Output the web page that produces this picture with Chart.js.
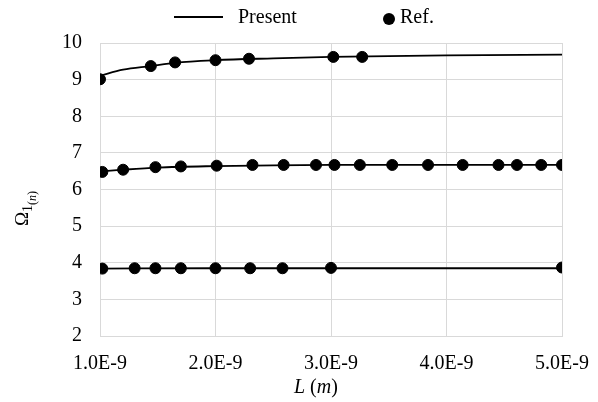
<!DOCTYPE html>
<html>
<head>
    <title>Omega vs L</title>
    <script src="https://cdn.jsdelivr.net/npm/chart.js"></script>
    <style>
        body {
            margin: 0;
            background: #fff;
        }
    </style>
</head>
<body>

<canvas id="chart" width="598" height="402"></canvas>

<script>
    // L values are in units of 1E-9 m
    const xTicks = [1, 2, 3, 4, 5];
    const yTicks = [2, 3, 4, 5, 6, 7, 8, 9, 10];

    // Present (solid curves)
    const presentL1 = [1.0, 1.2, 1.44, 1.65, 2.0, 2.5, 3.0, 4.0, 5.0];
    const presentY1 = [9.11, 9.27, 9.37, 9.46, 9.53, 9.58, 9.62, 9.66, 9.68];
    const presentL2 = [1.0, 1.2, 1.5, 2.0, 2.5, 3.0, 4.0, 5.0];
    const presentY2 = [6.49, 6.54, 6.60, 6.64, 6.66, 6.67, 6.67, 6.67];
    const presentL3 = [1.0, 2.0, 3.0, 5.0];
    const presentY3 = [3.84, 3.85, 3.85, 3.85];

    // Ref. (dots)
    const refL1 = [1.0, 1.44, 1.65, 2.0, 2.29, 3.02, 3.27];
    const refY1 = [9.01, 9.37, 9.47, 9.53, 9.57, 9.62, 9.62];
    const refL2 = [1.02, 1.2, 1.48, 1.7, 2.01, 2.32, 2.59, 2.87, 3.03, 3.25, 3.53, 3.84, 4.14, 4.45, 4.61, 4.82, 5.0];
    const refY2 = [6.48, 6.54, 6.61, 6.63, 6.65, 6.67, 6.67, 6.67, 6.67, 6.67, 6.67, 6.67, 6.67, 6.67, 6.67, 6.67, 6.67];
    const refL3 = [1.02, 1.3, 1.48, 1.7, 2.0, 2.3, 2.58, 3.0, 5.0];
    const refY3 = [3.84, 3.85, 3.85, 3.85, 3.85, 3.85, 3.85, 3.86, 3.87];

    const FONT = '"Liberation Serif", "Times New Roman", serif';

    function pts(xs, ys) {
        return xs.map((x, i) => ({ x: x, y: ys[i] }));
    }

    function presentSet(xs, ys) {
        return {
            label: 'Present',
            data: pts(xs, ys),
            showLine: true,
            borderColor: '#000',
            borderWidth: 1.8,
            pointRadius: 0,
            cubicInterpolationMode: 'monotone',
            order: 2
        };
    }

    function refSet(xs, ys) {
        return {
            label: 'Ref.',
            data: pts(xs, ys),
            showLine: false,
            backgroundColor: '#000',
            borderColor: '#000',
            pointRadius: 5.5,
            pointHoverRadius: 5.5,
            order: 1
        };
    }

    // legend + axis titles drawn as text on the canvas
    const extras = {
        id: 'extras',
        afterDraw(chart) {
            const ctx = chart.ctx;
            ctx.save();
            ctx.fillStyle = '#000';
            ctx.strokeStyle = '#000';

            // legend
            ctx.font = '20px ' + FONT;
            ctx.textBaseline = 'middle';
            ctx.lineWidth = 1.8;
            ctx.beginPath();
            ctx.moveTo(174, 17);
            ctx.lineTo(223, 17);
            ctx.stroke();
            ctx.fillText('Present', 238, 18);
            ctx.beginPath();
            ctx.arc(389, 19, 6, 0, Math.PI * 2);
            ctx.fill();
            ctx.fillText('Ref.', 400, 18);

            // x title: L (m)
            ctx.textBaseline = 'alphabetic';
            let x = 294;
            const yb = 393;
            const parts = [['italic ', 'L'], ['', ' ('], ['italic ', 'm'], ['', ')']];
            parts.forEach(p => {
                ctx.font = p[0] + '20px ' + FONT;
                ctx.fillText(p[1], x, yb);
                x += ctx.measureText(p[1]).width;
            });

            // y title: Omega 1 (n)
            ctx.translate(28, 226);
            ctx.rotate(-Math.PI / 2);
            ctx.font = '19px ' + FONT;
            ctx.fillText('\u03A9', 0, 0);
            let w = ctx.measureText('\u03A9').width;
            ctx.font = '14px ' + FONT;
            ctx.fillText('1', w, 4);
            w += ctx.measureText('1').width;
            ctx.font = '12px ' + FONT;
            ctx.fillText('(', w, 8);
            w += ctx.measureText('(').width;
            ctx.font = 'italic 12px ' + FONT;
            ctx.fillText('n', w, 8);
            w += ctx.measureText('n').width;
            ctx.font = '12px ' + FONT;
            ctx.fillText(')', w, 8);
            ctx.restore();
        }
    };

    const ctx = document.getElementById('chart').getContext('2d');
    new Chart(ctx, {
        type: 'scatter',
        data: {
            datasets: [
                presentSet(presentL1, presentY1),
                presentSet(presentL2, presentY2),
                presentSet(presentL3, presentY3),
                refSet(refL1, refY1),
                refSet(refL2, refY2),
                refSet(refL3, refY3)
            ]
        },
        options: {
            responsive: false,
            devicePixelRatio: 1,
            animation: false,
            layout: {
                padding: { top: 43, right: 36, left: 0, bottom: 0 }
            },
            plugins: {
                legend: { display: false },
                tooltip: { enabled: false }
            },
            scales: {
                x: {
                    type: 'linear',
                    min: xTicks[0],
                    max: xTicks[xTicks.length - 1],
                    afterFit: s => { s.height = 66; s.paddingLeft = 0; s.paddingRight = 0; },
                    afterBuildTicks: s => { s.ticks = xTicks.map(v => ({ value: v })); },
                    grid: { color: '#d9d9d9', lineWidth: 1, drawTicks: false },
                    border: { color: '#d9d9d9' },
                    ticks: {
                        padding: 16,
                        color: '#000',
                        font: { family: FONT, size: 20 },
                        maxRotation: 0,
                        callback: v => v.toFixed(1) + 'E-9'
                    }
                },
                y: {
                    min: yTicks[0],
                    max: yTicks[yTicks.length - 1],
                    afterFit: s => { s.width = 100; s.paddingTop = 0; s.paddingBottom = 0; },
                    afterBuildTicks: s => { s.ticks = yTicks.map(v => ({ value: v })); },
                    grid: { color: '#d9d9d9', lineWidth: 1, drawTicks: false },
                    border: { color: '#d9d9d9' },
                    ticks: {
                        padding: 18,
                        color: '#000',
                        font: { family: FONT, size: 20 }
                    }
                }
            }
        },
        plugins: [extras]
    });
</script>

</body>
</html>
